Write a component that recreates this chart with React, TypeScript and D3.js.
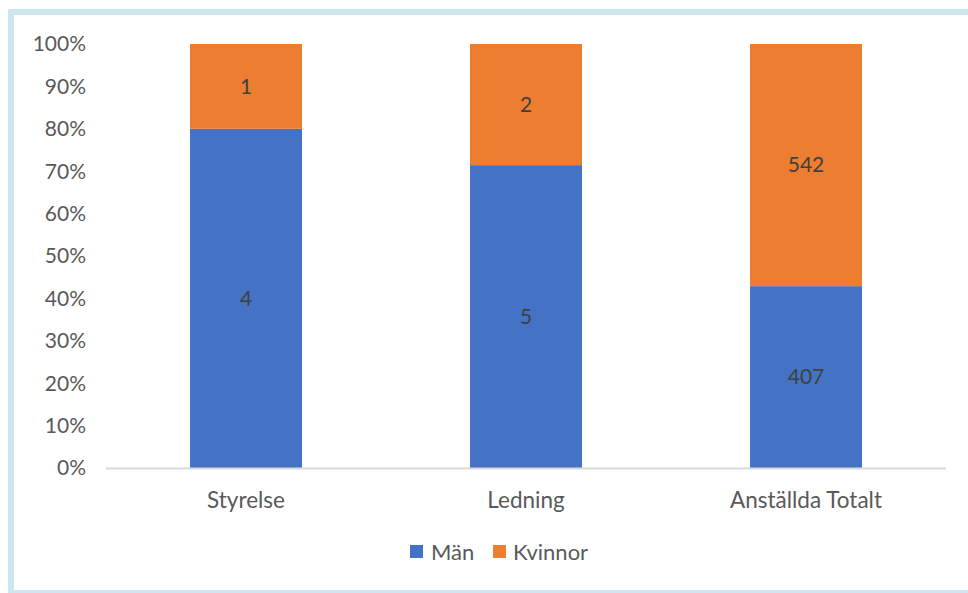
import React from "react";
import * as d3 from "d3";

const categories = ["Styrelse", "Ledning", "Anställda Totalt"];
const men = [4, 5, 407];
const women = [1, 2, 542];
const seriesNames = ["Män", "Kvinnor"];
const seriesColors = ["#4472C4", "#ED7D31"];
const yTicks = [0, 0.1, 0.2, 0.3, 0.4, 0.5, 0.6, 0.7, 0.8, 0.9, 1];

const W = 968;
const H = 593;
const FONT = "Lato, 'Open Sans', sans-serif";
const TEXT = "#595959";

export default function App() {
  const plot = { left: 106, right: 946, top: 44, bottom: 468 };
  const x = d3.scaleBand<string>().domain(categories).range([plot.left, plot.right]).paddingInner(0.6).paddingOuter(0.3);
  const y = d3.scaleLinear().domain([0, 1]).range([plot.bottom, plot.top]);
  const fmt = d3.format(".0%");

  const rows = categories.map((c, i) => {
    const total = men[i] + women[i];
    return { c, m: men[i], w: women[i], pm: men[i] / total };
  });

  return (
    <svg width={W} height={H} style={{ position: "absolute", left: 0, top: 0, background: "#fff" }} fontFamily={FONT}>
      <rect x={11} y={12} width={975} height={581} fill="#fff" stroke="#CDE7F1" strokeWidth={6} />
      {yTicks.map((t) => (
        <text key={t} x={86} y={y(t)} dy="0.35em" textAnchor="end" fontSize={21} fill={TEXT}>
          {fmt(t)}
        </text>
      ))}
      {rows.map((r) => {
        const bx = x(r.c)!;
        const bw = x.bandwidth();
        const cx = bx + bw / 2;
        return (
          <g key={r.c}>
            <rect x={bx} y={y(r.pm)} width={bw} height={y(0) - y(r.pm)} fill={seriesColors[0]} />
            <rect x={bx} y={y(1)} width={bw} height={y(r.pm) - y(1)} fill={seriesColors[1]} />
            <text x={cx} y={(y(0) + y(r.pm)) / 2} dy="0.35em" textAnchor="middle" fontSize={21} fill="#404040">
              {r.m}
            </text>
            <text x={cx} y={(y(r.pm) + y(1)) / 2} dy="0.35em" textAnchor="middle" fontSize={21} fill="#404040">
              {r.w}
            </text>
            <text x={cx} y={500} dy="0.35em" textAnchor="middle" fontSize={22.5} fill={TEXT}>
              {r.c}
            </text>
          </g>
        );
      })}
      <line x1={plot.left} x2={plot.right} y1={y(0) + 0.5} y2={y(0) + 0.5} stroke="#D9D9D9" strokeWidth={2} />
      <g>
        <rect x={410} y={545} width={13} height={13} fill={seriesColors[0]} />
        <text x={431} y={552} dy="0.35em" fontSize={22} fill={TEXT}>{seriesNames[0]}</text>
        <rect x={493} y={545} width={13} height={13} fill={seriesColors[1]} />
        <text x={513} y={552} dy="0.35em" fontSize={22} fill={TEXT}>{seriesNames[1]}</text>
      </g>
    </svg>
  );
}
